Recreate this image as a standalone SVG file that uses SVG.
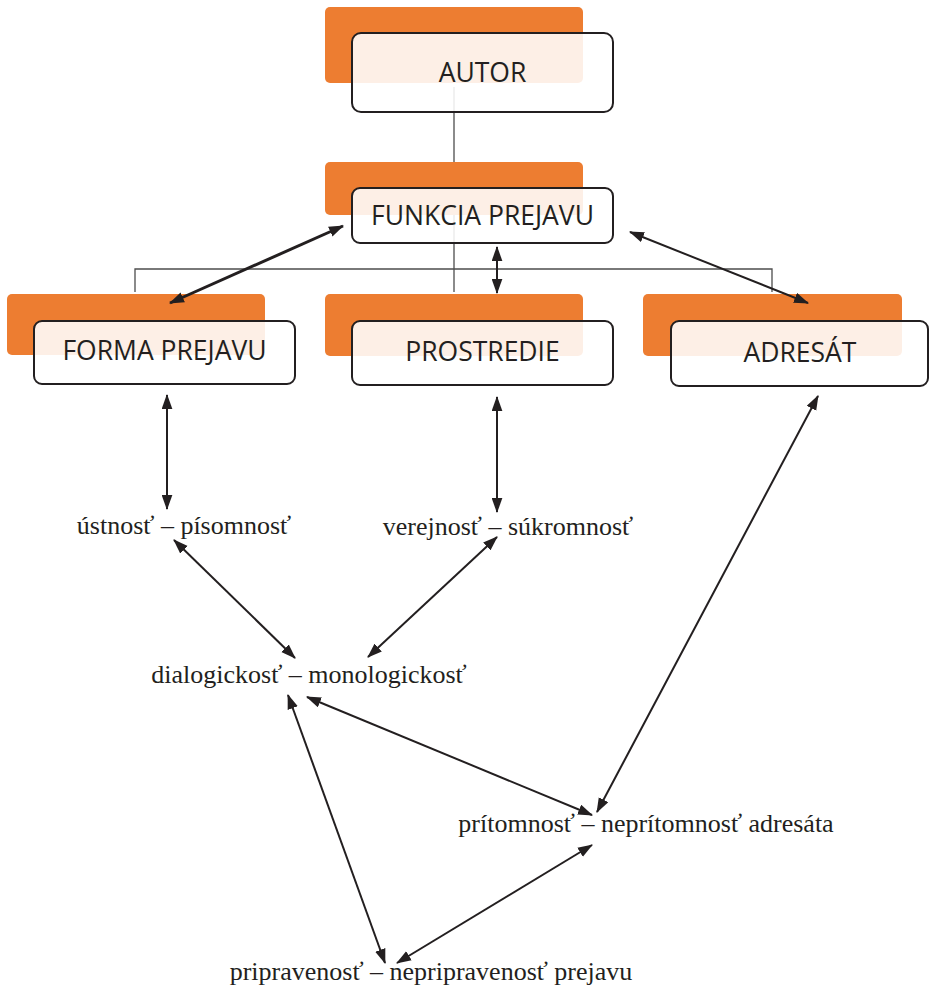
<svg xmlns="http://www.w3.org/2000/svg" width="930" height="987" viewBox="0 0 930 987">
<defs>
<style>
.bg{fill:#ED7D31}
.box{fill:#FFFFFF;fill-opacity:0.88;stroke:#231F20;stroke-width:2}
.lbl{font-family:"Open Sans","Noto Sans",sans-serif;font-size:26.5px;fill:#231F20;text-anchor:middle}
.ser{font-family:"Liberation Serif","Times New Roman",serif;font-size:26px;fill:#231F20;text-anchor:middle}
.tree{fill:none;stroke:#4D4D4D;stroke-width:1.3}
.arr{fill:none;stroke:#231F20;stroke-width:2;marker-start:url(#ah);marker-end:url(#ah)}
.arrb{fill:none;stroke:#231F20;stroke-width:3;marker-start:url(#ah2);marker-end:url(#ah2)}
</style>
<marker id="ah" viewBox="0 0 14 10" refX="13" refY="5" markerWidth="15" markerHeight="11" markerUnits="userSpaceOnUse" orient="auto-start-reverse">
<path d="M0,0 L14,5 L0,10 Z" fill="#231F20"/>
</marker>
<marker id="ah2" viewBox="0 0 14 10" refX="13" refY="5" markerWidth="15" markerHeight="11" markerUnits="userSpaceOnUse" orient="auto-start-reverse">
<path d="M0,0 L14,5 L0,10 Z" fill="#231F20"/>
</marker>
</defs>
<rect width="930" height="987" fill="#FFFFFF"/>
<g id="tree-lines">
<path class="tree" d="M454,87 V292"/>
<path class="tree" d="M135,292 V269 H772 V292"/>
</g>
<g id="autor">
<rect class="bg" x="325" y="7" width="258" height="76" rx="5"/>
<rect class="box" x="352" y="33" width="261" height="79" rx="9"/>
<text class="lbl" x="482.5" y="82">AUTOR</text>
</g>
<g id="funkcia">
<rect class="bg" x="325" y="162" width="258" height="53" rx="5"/>
<rect class="box" x="352" y="188" width="261" height="55" rx="8"/>
<text class="lbl" x="482.5" y="225">FUNKCIA PREJAVU</text>
</g>
<g id="forma">
<rect class="bg" x="7" y="294" width="258" height="61" rx="5"/>
<rect class="box" x="34" y="321" width="261" height="63" rx="8"/>
<text class="lbl" x="164.5" y="360">FORMA PREJAVU</text>
</g>
<g id="prostredie">
<rect class="bg" x="325" y="294" width="258" height="62" rx="5"/>
<rect class="box" x="352" y="321" width="261" height="64" rx="8"/>
<text class="lbl" x="482.5" y="361">PROSTREDIE</text>
</g>
<g id="adresat">
<rect class="bg" x="643" y="294" width="259" height="62" rx="5"/>
<rect class="box" x="671" y="321" width="257" height="65" rx="8"/>
<text class="lbl" x="800" y="362">ADRESÁT</text>
</g>
<g id="ustnost"><text class="ser" x="184" y="534">ústnosť – písomnosť</text></g>
<g id="verejnost"><text class="ser" x="508" y="535">verejnosť – súkromnosť</text></g>
<g id="dialogickost"><text class="ser" x="309" y="683">dialogickosť – monologickosť</text></g>
<g id="pritomnost"><text class="ser" x="646" y="832">prítomnosť – neprítomnosť adresáta</text></g>
<g id="pripravenost"><text class="ser" x="431" y="980">pripravenosť – nepripravenosť prejavu</text></g>
<g id="connectors">
<path class="arrb" d="M343,226 L170,303"/>
<path class="arr" d="M497,247 L497,293"/>
<path class="arr" d="M630,232 L808,303"/>
<path class="arr" d="M167,395 L167,509"/>
<path class="arr" d="M497,397 L497,512"/>
<path class="arr" d="M818,396 L597,812"/>
<path class="arr" d="M174,540 L295,658"/>
<path class="arr" d="M497,537 L368,657"/>
<path class="arr" d="M307,697 L592,815"/>
<path class="arr" d="M288,695 L385,963"/>
<path class="arr" d="M592,845 L397,963"/>
</g>
</svg>
